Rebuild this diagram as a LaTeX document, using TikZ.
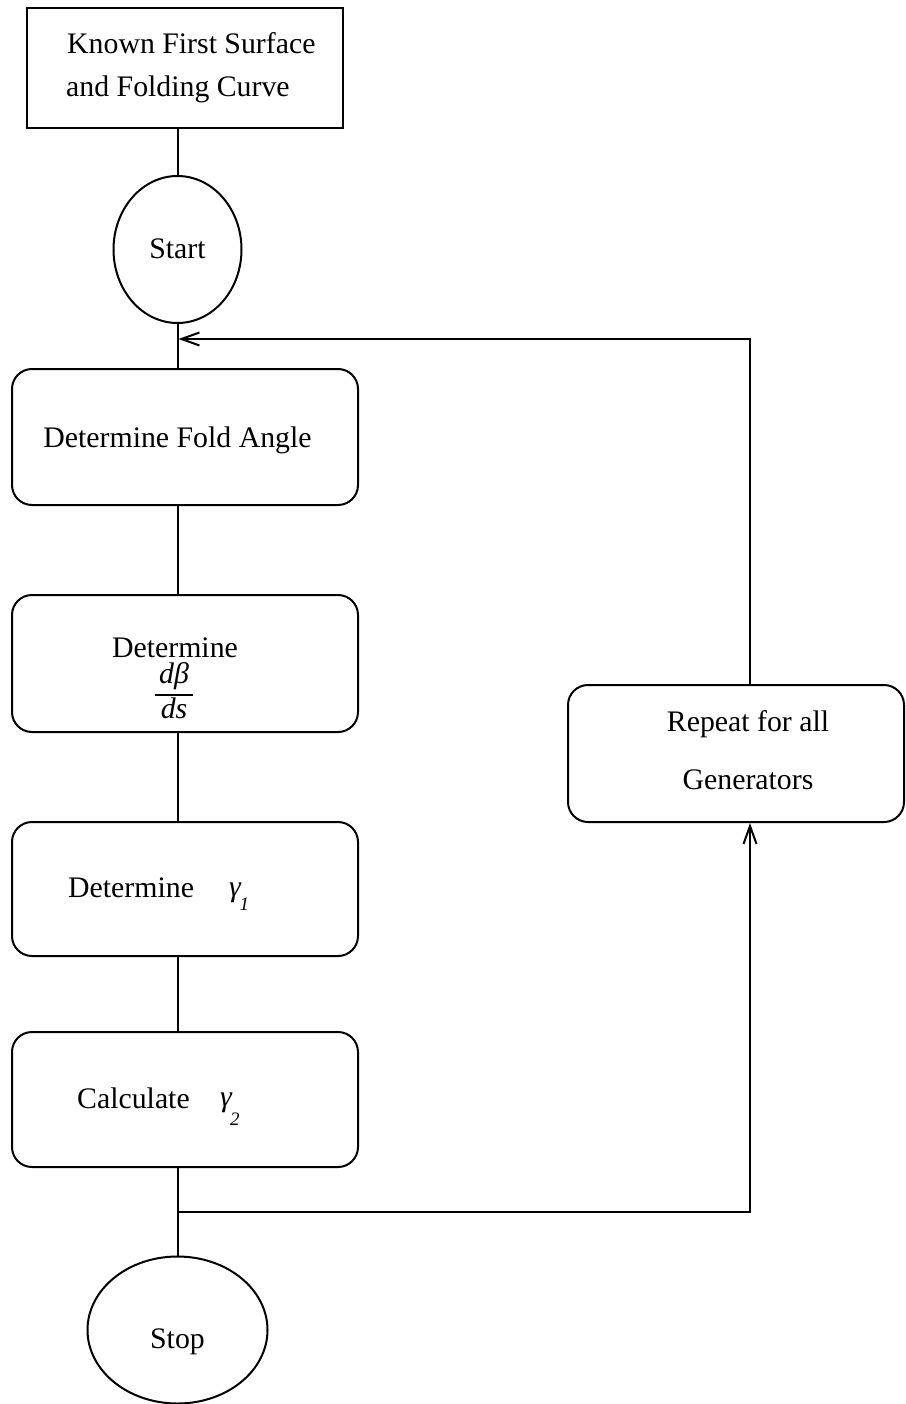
\documentclass[tikz,border=0pt]{standalone}
\usepackage{fontspec}
\setmainfont{Liberation Serif}
\usetikzlibrary{arrows.meta,shapes.geometric}
\begin{document}
\begin{tikzpicture}[x=1pt,y=-1pt,
  txt/.style={font=\fontsize{29.8}{36}\selectfont, inner sep=0pt},
  subtxt/.style={font=\fontsize{19}{22}\selectfont\itshape, inner sep=0pt},
  stepbox/.style={draw, line width=2pt, rounded corners=20pt,
    minimum width=346pt, minimum height=136pt, inner sep=0pt},
  oval/.style={draw, ellipse, line width=2pt, inner sep=0pt},
  conn/.style={line width=2pt},
  arr/.style={conn, -{Straight Barb[length=18pt,width=13pt,line width=2pt]}},
]
\useasboundingbox (0,0) rectangle (905,1404);

% input box
\node[draw, line width=2.7pt, minimum width=316pt, minimum height=120pt,
      inner sep=0pt] (known) at (185,68) {};
\node[txt, anchor=base west] (known1) at (67,54) {Known First Surface};
\node[txt, anchor=base west] (known2) at (66,97) {and Folding Curve};

% start terminal
\node[oval, minimum width=128pt, minimum height=147pt] (start) at (177.5,249.5) {};
\node[txt, anchor=base] (starttxt) at (177.5,259) {Start};

% process steps
\node[stepbox] (b1) at (185,437) {};
\node[txt, anchor=base] (b1txt) at (177.5,447) {Determine Fold Angle};

\node[stepbox, minimum height=137pt] (b2) at (185,663.5) {};
\node[txt, anchor=base] (b2txt) at (175,657) {Determine};
\node[txt, anchor=base] (num) at (174,683) {\itshape dβ};
\node[txt, anchor=base] (den) at (174,718) {\itshape ds};
\draw[line width=1.6pt] (155,695) -- (193,695);

\node[stepbox, minimum height=134pt] (b3) at (185,889) {};
\node[txt, anchor=base west] (b3txt) at (68,897) {Determine};
\node[txt, anchor=base west] (g1) at (229,896) {\itshape γ};
\node[subtxt, anchor=base west] (g1sub) at (239.5,910) {1};

\node[stepbox, minimum height=135pt] (b4) at (185,1099.5) {};
\node[txt, anchor=base west] (b4txt) at (77,1108) {Calculate};
\node[txt, anchor=base west] (g2) at (220,1106) {\itshape γ};
\node[subtxt, anchor=base west] (g2sub) at (230,1125) {2};

% loop box
\node[stepbox, minimum width=336pt, minimum height=137pt] (rep) at (736,753.5) {};
\node[txt, anchor=base] (rep1) at (748,731) {Repeat for all};
\node[txt, anchor=base] (rep2) at (748,789) {Generators};

% stop terminal
\node[oval, minimum width=180pt, minimum height=147pt] (stop) at (177.5,1330) {};
\node[txt, anchor=base] (stoptxt) at (177.5,1348) {Stop};

% main flow
\draw[conn] (known.south -| start) -- (start.north);
\draw[conn] (start.south) -- (b1.north -| start);
\draw[conn] (b1.south -| start) -- (b2.north -| start);
\draw[conn] (b2.south -| start) -- (b3.north -| start);
\draw[conn] (b3.south -| start) -- (b4.north -| start);
\draw[conn] (b4.south -| start) -- (stop.north);

% loop back
\coordinate (col) at (750,0);
\coordinate (split) at (177.5,1212);
\coordinate (merge) at (178.5,339);
\draw[arr] (split) -| (col |- rep.south);
\draw[arr] (col |- rep.north) |- (merge);
\end{tikzpicture}
\end{document}
